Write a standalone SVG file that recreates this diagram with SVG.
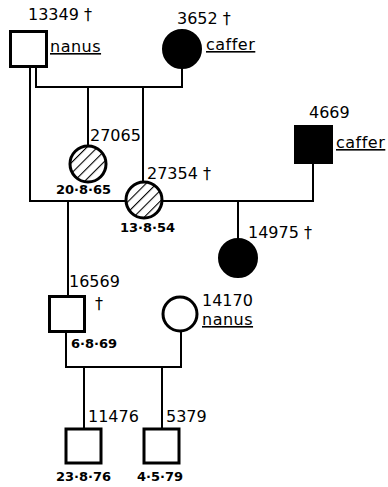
<svg xmlns="http://www.w3.org/2000/svg" width="388" height="487" viewBox="0 0 388 487">
<style>
.lbl{font-family:"DejaVu Sans",sans-serif;font-size:16px;fill:#000}
.dt{font-family:"DejaVu Sans",sans-serif;font-size:13px;font-weight:bold;fill:#000}
.sp{font-family:"DejaVu Sans",sans-serif;font-size:16px;fill:#000;text-decoration:underline;letter-spacing:0.5px}
.sq{fill:#fff;stroke:#000;stroke-width:3}
.ci{fill:#fff;stroke:#000;stroke-width:3}
.blk{fill:#000;stroke:#000;stroke-width:2}
.hat{fill:url(#hatch);stroke:#000;stroke-width:3}
.ln{fill:none;stroke:#000;stroke-width:2}
</style>
<defs>
<pattern id="hatch" patternUnits="userSpaceOnUse" width="7.5" height="7.5" patternTransform="rotate(45)">
<rect width="7.5" height="7.5" fill="#fff"/>
<line x1="0" y1="0" x2="0" y2="7.5" stroke="#000" stroke-width="2.2"/>
</pattern>
</defs>
<g id="connectors">
<polyline class="ln" points="30,66 30,201 313,201 313,163"/>
<polyline class="ln" points="36,66 36,87 182,87 182,68"/>
<line class="ln" x1="88" y1="87" x2="88" y2="146"/>
<line class="ln" x1="143" y1="87" x2="143" y2="182"/>
<line class="ln" x1="68" y1="201" x2="68" y2="296"/>
<line class="ln" x1="238" y1="201" x2="238" y2="239"/>
<polyline class="ln" points="66,332 66,367 181,367 181,332"/>
<line class="ln" x1="84" y1="367" x2="84" y2="428"/>
<line class="ln" x1="162" y1="367" x2="162" y2="428"/>
</g>
<g id="n13349">
<rect class="sq" x="10.5" y="31.5" width="36" height="35"/>
<text class="lbl" x="28" y="20">13349 †</text>
<text class="sp" x="50" y="52">nanus</text>
</g>
<g id="n3652">
<circle class="blk" cx="182" cy="49" r="19"/>
<text class="lbl" x="177" y="24">3652 †</text>
<text class="sp" x="206" y="50">caffer</text>
</g>
<g id="n27065">
<circle class="hat" cx="88" cy="164" r="18"/>
<text class="lbl" x="90" y="141">27065</text>
<text class="dt" x="56" y="194">20·8·65</text>
</g>
<g id="n27354">
<circle class="hat" cx="144" cy="200" r="18"/>
<text class="lbl" x="147" y="179">27354 †</text>
<text class="dt" x="120" y="232">13·8·54</text>
</g>
<g id="n4669">
<rect class="blk" x="295" y="126" width="37" height="37"/>
<text class="lbl" x="309" y="118">4669</text>
<text class="sp" x="336" y="148">caffer</text>
</g>
<g id="n14975">
<circle class="blk" cx="238" cy="258" r="19"/>
<text class="lbl" x="248" y="238">14975 †</text>
</g>
<g id="n16569">
<rect class="sq" x="49.5" y="296.5" width="35" height="35"/>
<text class="lbl" x="69" y="287">16569</text>
<text class="lbl" x="95" y="309">†</text>
<text class="dt" x="71" y="348">6·8·69</text>
</g>
<g id="n14170">
<circle class="ci" cx="180" cy="314" r="17"/>
<text class="lbl" x="202" y="306">14170</text>
<text class="sp" x="202" y="325">nanus</text>
</g>
<g id="n11476">
<rect class="sq" x="66" y="429" width="35" height="34"/>
<text class="lbl" x="88" y="422">11476</text>
<text class="dt" x="56" y="481">23·8·76</text>
</g>
<g id="n5379">
<rect class="sq" x="144" y="429" width="35" height="34"/>
<text class="lbl" x="166" y="422">5379</text>
<text class="dt" x="137" y="481">4·5·79</text>
</g>
</svg>
